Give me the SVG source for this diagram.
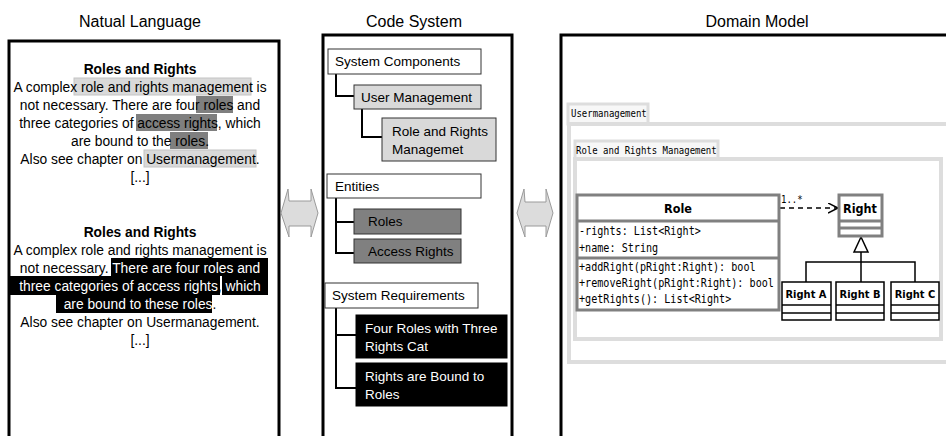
<svg xmlns="http://www.w3.org/2000/svg" width="946" height="436" viewBox="0 0 946 436">
<style>
.t{font-family:"Liberation Sans",Arial,sans-serif;fill:#000}
.title{font-size:16px;text-anchor:middle}
.body{font-size:13.8px;text-anchor:middle}
.b{font-weight:bold}
.w{fill:#fff}
.panel{fill:#fff;stroke:#000;stroke-width:3}
.node{font-size:13.5px}
.lbox{fill:#fff;stroke:#333;stroke-width:1}
.gbox{fill:#d9d9d9;stroke:#333;stroke-width:1}
.dbox{fill:#808080;stroke:#333;stroke-width:1}
.kbox{fill:#000;stroke:#000;stroke-width:1}
.conn{fill:none;stroke:#000;stroke-width:2}
.hl{fill:#d9d9d9;stroke:#c4c4c4;stroke-width:1}
.hd{fill:#7f7f7f}
.hk{fill:#000}
.darr{fill:#dcdcdc;stroke:#9a9a9a;stroke-width:1}
.mono{font-family:"DejaVu Sans Mono",monospace;font-size:11.5px;fill:#000}
.pmono{font-family:"DejaVu Sans Mono",monospace;font-size:10px;fill:#000}
.uml{font-family:"DejaVu Sans Condensed","DejaVu Sans",sans-serif;font-stretch:condensed;font-weight:bold;text-anchor:middle;fill:#000}
.pkg{fill:#fff;stroke:#dddddd;stroke-width:4}
.ptab{fill:#f7f7f7;stroke:#dddddd;stroke-width:3}
.cls{fill:#fff;stroke:#808080;stroke-width:3}
.cls2{fill:#fff;stroke:#000;stroke-width:1.5}
.ln{fill:none;stroke:#000;stroke-width:1.5}
</style>
<defs>
<marker id="open" markerWidth="12" markerHeight="12" refX="10" refY="5" orient="auto" markerUnits="userSpaceOnUse">
<path d="M0,0 L10,5 L0,10" fill="none" stroke="#000" stroke-width="1.5"/>
</marker>
</defs>

<!-- titles -->
<text class="t title" x="140" y="27">Natual Language</text>
<text class="t title" x="414" y="27">Code System</text>
<text class="t title" x="757" y="27">Domain Model</text>

<!-- panels -->
<g id="panel-natural-language">
<rect class="panel" x="9" y="41" width="270" height="420"/>
<rect class="hl" x="74" y="78" width="177" height="17"/>
<rect class="hd" x="196" y="96" width="37" height="17"/>
<rect class="hd" x="136" y="114" width="81" height="17"/>
<rect class="hd" x="170" y="132" width="38" height="17"/>
<rect class="hl" x="144" y="150" width="112" height="17"/>
<text class="t body b" x="140" y="74">Roles and Rights</text>
<text class="t body" x="140" y="92">A complex role and rights management is</text>
<text class="t body" x="140" y="110">not necessary. There are four roles and</text>
<text class="t body" x="140" y="128">three categories of access rights, which</text>
<text class="t body" x="140" y="146">are bound to the roles.</text>
<text class="t body" x="140" y="164">Also see chapter on Usermanagement.</text>
<text class="t body" x="140" y="182">[...]</text>

<rect class="hk" x="111" y="258" width="157" height="18"/>
<rect class="hk" x="10" y="276" width="210" height="19"/>
<rect class="hk" x="222" y="276" width="46" height="19"/>
<rect class="hk" x="56" y="295" width="156" height="18"/>
<text class="t body b" x="140" y="237">Roles and Rights</text>
<text class="t body" x="140" y="255">A complex role and rights management is</text>
<text class="t body" x="140" y="273">not necessary. <tspan class="w">There are four roles and</tspan></text>
<text class="t body" x="140" y="291"><tspan class="w">three categories of access rights</tspan>, <tspan class="w">which</tspan></text>
<text class="t body" x="140" y="309"><tspan class="w">are bound to these roles</tspan>.</text>
<text class="t body" x="140" y="327">Also see chapter on Usermanagement.</text>
<text class="t body" x="140" y="345">[...]</text>
</g>

<g id="panel-code-system">
<rect class="panel" x="323" y="35" width="189" height="420"/>
</g>
<g id="panel-domain-model">
<rect class="panel" x="561" y="35" width="400" height="420"/>
</g>

<!-- double arrows -->
<g id="arrow-nl-cs">
<polygon class="darr" points="281,213 288,189 289,201 311,201 311,189 318,213 311,237 311,226 289,226 289,237"/>
</g>
<g id="arrow-cs-dm">
<polygon class="darr" points="517,213 524,189 525,202 546,202 546,189 553,213 546,237 546,226 525,226 525,237"/>
</g>

<!-- code system connectors -->
<g id="code-connectors">
<path class="conn" d="M336,74 V96 H354"/>
<path class="conn" d="M362,109 V137 H382"/>
<path class="conn" d="M336,198 V253 H354 M336,222 H354"/>
<path class="conn" d="M336,308 V388 H356 M336,335 H356"/>
</g>

<g id="system-components">
<rect class="lbox" x="328" y="49" width="153" height="25"/>
<text class="t node" x="335" y="66">System Components</text>
</g>
<g id="user-management">
<rect class="gbox" x="354" y="85" width="127" height="24"/>
<text class="t node" x="361" y="102">User Management</text>
</g>
<g id="role-rights-management">
<rect class="gbox" x="382" y="118" width="114" height="43"/>
<text class="t node" x="392" y="136">Role and Rights</text>
<text class="t node" x="392" y="154">Managemet</text>
</g>
<g id="entities">
<rect class="lbox" x="327" y="174" width="154" height="24"/>
<text class="t node" x="335" y="191">Entities</text>
</g>
<g id="roles">
<rect class="dbox" x="354" y="209" width="107" height="25"/>
<text class="t node" x="368" y="226">Roles</text>
</g>
<g id="access-rights">
<rect class="dbox" x="354" y="239" width="107" height="24"/>
<text class="t node" x="368" y="256">Access Rights</text>
</g>
<g id="system-requirements">
<rect class="lbox" x="325" y="283" width="153" height="25"/>
<text class="t node" x="332" y="300">System Requirements</text>
</g>
<g id="req-four-roles">
<rect class="kbox" x="356" y="315" width="151" height="43"/>
<text class="t node w" x="365" y="333">Four Roles with Three</text>
<text class="t node w" x="365" y="351">Rights Cat</text>
</g>
<g id="req-rights-bound">
<rect class="kbox" x="356" y="363" width="151" height="43"/>
<text class="t node w" x="365" y="381">Rights are Bound to</text>
<text class="t node w" x="365" y="399">Roles</text>
</g>

<!-- domain model packages -->
<g id="pkg-usermanagement">
<rect class="ptab" x="568" y="104" width="80" height="20"/>
<rect class="pkg" x="569" y="124" width="400" height="238"/>
<text class="pmono" transform="translate(571,117) scale(0.9,1)">Usermanagement</text>
</g>
<g id="pkg-role-rights">
<rect class="ptab" x="575" y="141" width="143" height="18"/>
<rect class="pkg" x="575" y="159" width="366" height="180"/>
<text class="pmono" transform="translate(576,154) scale(0.9,1)">Role and Rights Management</text>
</g>

<!-- UML connectors -->
<g id="uml-connectors">
<line x1="780" y1="208" x2="838" y2="208" stroke="#000" stroke-width="1.5" stroke-dasharray="5,4" marker-end="url(#open)"/>
<text class="pmono" transform="translate(781,203) scale(0.9,1)">1..*</text>
<polygon points="861,237 854,252 868,252" fill="#fff" stroke="#000" stroke-width="1.5"/>
<path class="ln" d="M861,252 V262 M806,282 V262 H915 V282 M861,262 V282"/>
</g>

<g id="class-role">
<rect class="cls" x="577" y="195" width="202" height="115"/>
<line x1="577" y1="221" x2="779" y2="221" stroke="#808080" stroke-width="3"/>
<line x1="577" y1="258" x2="779" y2="258" stroke="#808080" stroke-width="3"/>
<text class="uml" x="678" y="213" font-size="12.5">Role</text>
<text class="mono" transform="translate(579,235) scale(0.88,1)">-rights: List&lt;Right&gt;</text>
<text class="mono" transform="translate(579,252) scale(0.88,1)">+name: String</text>
<text class="mono" transform="translate(579,271) scale(0.88,1)">+addRight(pRight:Right): bool</text>
<text class="mono" transform="translate(579,287) scale(0.88,1)">+removeRight(pRight:Right): bool</text>
<text class="mono" transform="translate(579,303) scale(0.88,1)">+getRights(): List&lt;Right&gt;</text>
</g>
<g id="class-right">
<rect class="cls" x="839" y="195" width="43" height="41"/>
<line x1="839" y1="221" x2="882" y2="221" stroke="#808080" stroke-width="3"/>
<line x1="839" y1="228" x2="882" y2="228" stroke="#808080" stroke-width="3"/>
<text class="uml" x="860" y="213" font-size="12.5">Right</text>
</g>
<g id="class-right-a">
<rect class="cls2" x="782" y="282" width="49" height="38"/>
<line x1="782" y1="305" x2="831" y2="305" stroke="#000" stroke-width="1.5"/>
<line x1="782" y1="313" x2="831" y2="313" stroke="#000" stroke-width="1.5"/>
<text class="uml" x="806" y="298" font-size="11">Right A</text>
</g>
<g id="class-right-b">
<rect class="cls2" x="836" y="282" width="48" height="38"/>
<line x1="836" y1="305" x2="884" y2="305" stroke="#000" stroke-width="1.5"/>
<line x1="836" y1="313" x2="884" y2="313" stroke="#000" stroke-width="1.5"/>
<text class="uml" x="860" y="298" font-size="11">Right B</text>
</g>
<g id="class-right-c">
<rect class="cls2" x="891" y="282" width="48" height="38"/>
<line x1="891" y1="305" x2="939" y2="305" stroke="#000" stroke-width="1.5"/>
<line x1="891" y1="313" x2="939" y2="313" stroke="#000" stroke-width="1.5"/>
<text class="uml" x="915" y="298" font-size="11">Right C</text>
</g>
</svg>
